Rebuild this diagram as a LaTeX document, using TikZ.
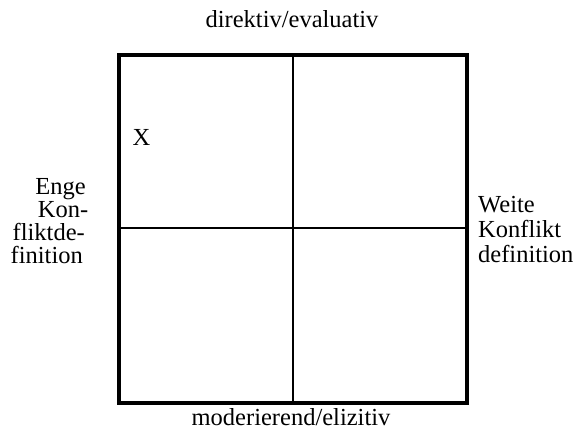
\documentclass[tikz,border=0pt]{standalone}
\usepackage{fontspec}
\setmainfont{Liberation Serif}
\begin{document}
\begin{tikzpicture}[x=1pt,y=-1pt,
  lbl/.style={inner sep=0pt,font=\fontsize{24.5}{28}\selectfont},
  outer/.style={line width=4pt},
  inner/.style={line width=2pt}]
\useasboundingbox[fill=white] (0,0) rectangle (581,433);
\coordinate (tl) at (119,55);
\coordinate (br) at (467,402.5);
\coordinate (tm) at (293,55);
\coordinate (bm) at (293,402.5);
\coordinate (lm) at (119,228);
\coordinate (rm) at (467,228);
\draw[inner] (tm) -- (bm);
\draw[inner] (lm) -- (rm);
\draw[outer] (tl) rectangle (br);
\node[lbl,anchor=base] (top) at (292,28) {direktiv/evaluativ};
\node[lbl,anchor=base] (bot) at (291,425) {moderierend/elizitiv};
\node[lbl,anchor=base west] (x) at (132.5,146) {X};
\node[lbl,anchor=base east] (l1) at (86,194) {Enge};
\node[lbl,anchor=base east] (l2) at (88.5,217) {Kon-};
\node[lbl,anchor=base east] (l3) at (85,240) {fliktde-};
\node[lbl,anchor=base east] (l4) at (83,263) {finition};
\node[lbl,anchor=base west] (r1) at (478,212) {Weite};
\node[lbl,anchor=base west] (r2) at (478,237) {Konflikt};
\node[lbl,anchor=base west] (r3) at (478,262) {definition};
\end{tikzpicture}
\end{document}
